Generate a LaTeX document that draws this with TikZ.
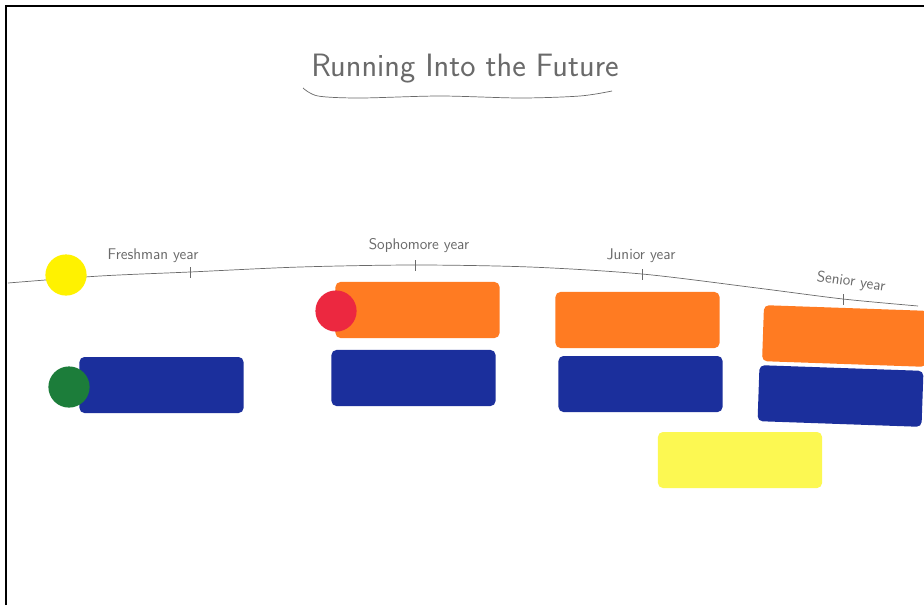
\documentclass[tikz,border=0pt]{standalone}
\usetikzlibrary{positioning}
\definecolor{CardOrange}{HTML}{FF7B22}
\definecolor{CardBlue}{HTML}{1B2F9C}
\definecolor{CardYellow}{HTML}{FCF852}
\definecolor{DotYellow}{HTML}{FFF200}
\definecolor{DotGreen}{HTML}{1C7D3A}
\definecolor{DotRed}{HTML}{EC2840}
\definecolor{Pencil}{HTML}{6A6A6A}

\begin{document}
\begin{tikzpicture}[x=0.025cm, y=-0.025cm,
    card/.style={fill=#1, rounded corners=3.5pt, minimum width=4.1cm, minimum height=1.4cm, inner sep=0pt},
    dot/.style={circle, fill=#1, minimum size=1.03cm, inner sep=0pt},
    pencil/.style={Pencil, line width=0.5pt},
    hand/.style={Pencil, font=\sffamily\fontsize{11}{13}\selectfont}]
  \clip (0,0) rectangle (924,605);
  \fill[white] (0,0) rectangle (924,605);
  % frame
  \draw[line width=1.6pt] (6,605) -- (6,6) -- (924,6);

  % title
  \node[hand, font=\sffamily\fontsize{23}{27}\selectfont, anchor=base] (title) at (465,76) {Running Into the Future};
  \draw[pencil] plot[smooth] coordinates {(303,88) (318,96) (360,98) (440,96) (520,98) (580,96) (612,91)};

  % timeline
  \coordinate (freshtick) at (190,272);
  \coordinate (sophtick) at (415,265);
  \coordinate (juntick) at (642,274);
  \coordinate (sentick) at (843,299);
  \draw[pencil] plot[smooth] coordinates {(8,283) (100,276) (freshtick) (300,267) (sophtick) (530,267) (juntick) (757,288) (sentick) (918,306)};
  \foreach \t in {freshtick, sophtick, juntick, sentick}
    \draw[pencil] (\t) ++(0,-5) -- ++(0,11);
  \node[hand] (freshman) at (153,256) {Freshman year};
  \node[hand] (sophomore) at (419,246) {Sophomore year};
  \node[hand] (junior) at (641,256) {Junior year};
  \node[hand, rotate=-8] (senior) at (851,282) {Senior year};

  % cards
  \node[card=CardBlue] (freshblue) at (161.5,385) {};
  \node[card=CardOrange] (sophorange) at (417.5,310) {};
  \node[card=CardBlue] (sophblue) at (413.5,378) {};
  \node[card=CardOrange] (junorange) at (637.5,320) {};
  \node[card=CardBlue] (junblue) at (640.5,384) {};
  \node[card=CardYellow] (junyellow) at (740,460) {};
  \node[card=CardOrange, rotate=-2] (senorange) at (845,336) {};
  \node[card=CardBlue, rotate=-2] (senblue) at (840.5,396) {};

  % dots
  \node[dot=DotYellow] (start) at (66,275) {};
  \node[dot=DotGreen] (greendot) at (69,387) {};
  \node[dot=DotRed] (reddot) at (336,311) {};
\end{tikzpicture}
\end{document}
